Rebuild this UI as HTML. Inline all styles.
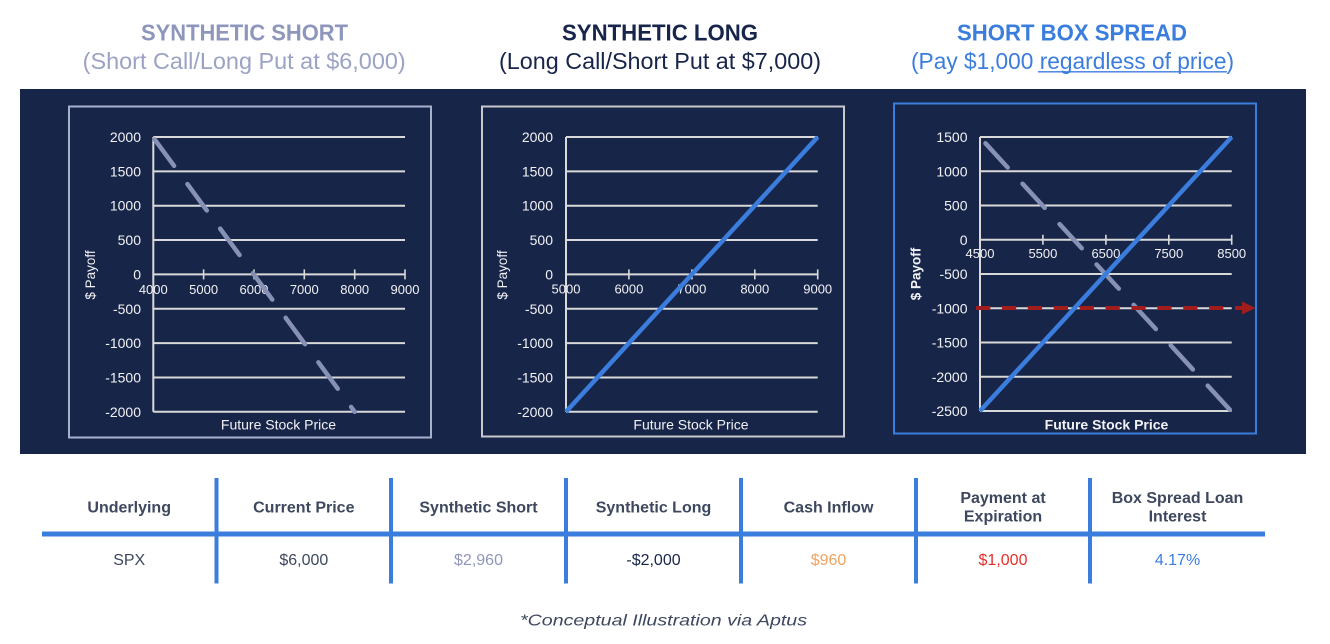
<!DOCTYPE html>
<html>
<head>
<meta charset="utf-8">
<style>
  html,body{margin:0;padding:0;background:#fff;}
  svg{display:block;}
</style>
</head>
<body>
<svg width="1330" height="644" viewBox="0 0 1330 644" xmlns="http://www.w3.org/2000/svg" font-family="'Liberation Sans', sans-serif">
  <rect width="1330" height="644" fill="#ffffff"/>

  <!-- Titles -->
  <text x="244.5" y="40.7" font-size="23" font-weight="bold" fill="#8e97bb" text-anchor="middle" textLength="207" lengthAdjust="spacingAndGlyphs">SYNTHETIC SHORT</text>
  <text x="244.2" y="69" font-size="23" fill="#9ba3c5" text-anchor="middle" textLength="323" lengthAdjust="spacingAndGlyphs">(Short Call/Long Put at $6,000)</text>

  <text x="660" y="40.7" font-size="23" font-weight="bold" fill="#17254a" text-anchor="middle" textLength="196" lengthAdjust="spacingAndGlyphs">SYNTHETIC LONG</text>
  <text x="660" y="69" font-size="23" fill="#17254a" text-anchor="middle" textLength="322" lengthAdjust="spacingAndGlyphs">(Long Call/Short Put at $7,000)</text>

  <text x="1072" y="40.7" font-size="23" font-weight="bold" fill="#3b7ddd" text-anchor="middle" textLength="230" lengthAdjust="spacingAndGlyphs">SHORT BOX SPREAD</text>
  <text x="1072.5" y="69" font-size="23" fill="#3b7ddd" text-anchor="middle" textLength="323" lengthAdjust="spacingAndGlyphs">(Pay $1,000 regardless of price)</text>
  <line x1="1038" y1="71.8" x2="1227" y2="71.8" stroke="#3b7ddd" stroke-width="1.3"/>

  <!-- Dark panel -->
  <rect x="20" y="89" width="1286" height="365" fill="#172548"/>

  <!-- ========== Chart 1 ========== -->
  <rect x="69" y="106.5" width="362" height="331" fill="none" stroke="#a9b0cc" stroke-width="2"/>
  <g stroke="#d9d9d9" stroke-width="2">
    <line x1="153.3" y1="137" x2="405" y2="137"/>
    <line x1="153.3" y1="171.35" x2="405" y2="171.35"/>
    <line x1="153.3" y1="205.7" x2="405" y2="205.7"/>
    <line x1="153.3" y1="240.05" x2="405" y2="240.05"/>
    <line x1="153.3" y1="274.4" x2="405" y2="274.4"/>
    <line x1="153.3" y1="308.75" x2="405" y2="308.75"/>
    <line x1="153.3" y1="343.1" x2="405" y2="343.1"/>
    <line x1="153.3" y1="377.45" x2="405" y2="377.45"/>
    <line x1="153.3" y1="411.8" x2="405" y2="411.8"/>
    <line x1="153.3" y1="137" x2="153.3" y2="411.8"/>
  </g>
  <g stroke="#d9d9d9" stroke-width="1.6">
    <line x1="203.6" y1="269.4" x2="203.6" y2="279.4"/>
    <line x1="254" y1="269.4" x2="254" y2="279.4"/>
    <line x1="304.3" y1="269.4" x2="304.3" y2="279.4"/>
    <line x1="354.7" y1="269.4" x2="354.7" y2="279.4"/>
    <line x1="405" y1="269.4" x2="405" y2="279.4"/>
  </g>
  <g font-size="14" fill="#f2f2f5" text-anchor="end">
    <text x="141" y="142">2000</text>
    <text x="141" y="176.35">1500</text>
    <text x="141" y="210.7">1000</text>
    <text x="141" y="245.05">500</text>
    <text x="141" y="279.4">0</text>
    <text x="141" y="313.75">-500</text>
    <text x="141" y="348.1">-1000</text>
    <text x="141" y="382.45">-1500</text>
    <text x="141" y="416.8">-2000</text>
  </g>
  <g font-size="13" fill="#f2f2f5" text-anchor="middle">
    <text x="153.3" y="293.8">4000</text>
    <text x="203.6" y="293.8">5000</text>
    <text x="254" y="293.8">6000</text>
    <text x="304.3" y="293.8">7000</text>
    <text x="354.7" y="293.8">8000</text>
    <text x="405" y="293.8">9000</text>
  </g>
  <text x="0" y="0" font-size="13.5" fill="#f2f2f5" text-anchor="middle" transform="translate(95,275) rotate(-90)">$ Payoff</text>
  <text x="278.5" y="429.3" font-size="14" fill="#f2f2f5" text-anchor="middle">Future Stock Price</text>
  <line x1="154.7" y1="139.5" x2="354.7" y2="411.8" stroke="#8791b5" stroke-width="4.5" stroke-linecap="round" stroke-dasharray="32.7 22.6"/>

  <!-- ========== Chart 2 ========== -->
  <rect x="482" y="106.5" width="362" height="330" fill="none" stroke="#c9c9cc" stroke-width="2"/>
  <g stroke="#d9d9d9" stroke-width="2">
    <line x1="566" y1="137" x2="817.7" y2="137"/>
    <line x1="566" y1="171.35" x2="817.7" y2="171.35"/>
    <line x1="566" y1="205.7" x2="817.7" y2="205.7"/>
    <line x1="566" y1="240.05" x2="817.7" y2="240.05"/>
    <line x1="566" y1="274.4" x2="817.7" y2="274.4"/>
    <line x1="566" y1="308.75" x2="817.7" y2="308.75"/>
    <line x1="566" y1="343.1" x2="817.7" y2="343.1"/>
    <line x1="566" y1="377.45" x2="817.7" y2="377.45"/>
    <line x1="566" y1="411.8" x2="817.7" y2="411.8"/>
    <line x1="566" y1="137" x2="566" y2="411.8"/>
  </g>
  <g stroke="#d9d9d9" stroke-width="1.6">
    <line x1="628.9" y1="269.4" x2="628.9" y2="279.4"/>
    <line x1="691.9" y1="269.4" x2="691.9" y2="279.4"/>
    <line x1="754.8" y1="269.4" x2="754.8" y2="279.4"/>
    <line x1="817.7" y1="269.4" x2="817.7" y2="279.4"/>
  </g>
  <g font-size="14" fill="#f2f2f5" text-anchor="end">
    <text x="553" y="142">2000</text>
    <text x="553" y="176.35">1500</text>
    <text x="553" y="210.7">1000</text>
    <text x="553" y="245.05">500</text>
    <text x="553" y="279.4">0</text>
    <text x="553" y="313.75">-500</text>
    <text x="553" y="348.1">-1000</text>
    <text x="553" y="382.45">-1500</text>
    <text x="553" y="416.8">-2000</text>
  </g>
  <g font-size="13" fill="#f2f2f5" text-anchor="middle">
    <text x="566" y="293.3">5000</text>
    <text x="628.9" y="293.3">6000</text>
    <text x="691.9" y="293.3">7000</text>
    <text x="754.8" y="293.3">8000</text>
    <text x="817.7" y="293.3">9000</text>
  </g>
  <text x="0" y="0" font-size="13.5" fill="#f2f2f5" text-anchor="middle" transform="translate(507,275) rotate(-90)">$ Payoff</text>
  <text x="691" y="429.3" font-size="14" fill="#f2f2f5" text-anchor="middle">Future Stock Price</text>
  <line x1="566" y1="411.8" x2="817.7" y2="137" stroke="#3b7ddd" stroke-width="4.5"/>

  <!-- ========== Chart 3 ========== -->
  <rect x="894" y="103.5" width="362" height="330" fill="none" stroke="#3b7ddd" stroke-width="2"/>
  <g stroke="#d9d9d9" stroke-width="2">
    <line x1="980" y1="137" x2="1231.7" y2="137"/>
    <line x1="980" y1="171.25" x2="1231.7" y2="171.25"/>
    <line x1="980" y1="205.5" x2="1231.7" y2="205.5"/>
    <line x1="980" y1="239.75" x2="1231.7" y2="239.75"/>
    <line x1="980" y1="274" x2="1231.7" y2="274"/>
    <line x1="980" y1="308.25" x2="1231.7" y2="308.25"/>
    <line x1="980" y1="342.5" x2="1231.7" y2="342.5"/>
    <line x1="980" y1="376.75" x2="1231.7" y2="376.75"/>
    <line x1="980" y1="411" x2="1231.7" y2="411"/>
    <line x1="980" y1="137" x2="980" y2="411"/>
  </g>
  <g stroke="#d9d9d9" stroke-width="1.6">
    <line x1="1042.9" y1="234.75" x2="1042.9" y2="244.75"/>
    <line x1="1105.9" y1="234.75" x2="1105.9" y2="244.75"/>
    <line x1="1168.8" y1="234.75" x2="1168.8" y2="244.75"/>
    <line x1="1231.7" y1="234.75" x2="1231.7" y2="244.75"/>
  </g>
  <g font-size="14" fill="#f2f2f5" text-anchor="end">
    <text x="967.5" y="142">1500</text>
    <text x="967.5" y="176.25">1000</text>
    <text x="967.5" y="210.5">500</text>
    <text x="967.5" y="244.75">0</text>
    <text x="967.5" y="279">-500</text>
    <text x="967.5" y="313.25">-1000</text>
    <text x="967.5" y="347.5">-1500</text>
    <text x="967.5" y="381.75">-2000</text>
    <text x="967.5" y="416">-2500</text>
  </g>
  <g font-size="13" fill="#f2f2f5" text-anchor="middle">
    <text x="980" y="258">4500</text>
    <text x="1042.9" y="258">5500</text>
    <text x="1105.9" y="258">6500</text>
    <text x="1168.8" y="258">7500</text>
    <text x="1231.7" y="258">8500</text>
  </g>
  <text x="0" y="0" font-size="13.5" font-weight="bold" fill="#f2f2f5" text-anchor="middle" transform="translate(920.5,274) rotate(-90)">$ Payoff</text>
  <text x="1106.5" y="429.3" font-size="14" font-weight="bold" fill="#f2f2f5" text-anchor="middle">Future Stock Price</text>
  <!-- gray dashed synthetic short -->
  <line x1="985.5" y1="143.3" x2="1230.7" y2="410.7" stroke="#8791b5" stroke-width="4.5" stroke-linecap="round" stroke-dasharray="32.8 22"/>
  <!-- blue synthetic long -->
  <line x1="980" y1="411" x2="1231.7" y2="137" stroke="#3b7ddd" stroke-width="4.5"/>
  <!-- red dashed payment line with arrow -->
  <line x1="976" y1="308" x2="1244" y2="308" stroke="#a11d1d" stroke-width="4" stroke-dasharray="14.3 11.6"/>
  <polygon points="1242,301.5 1255.5,308 1242,314.5" fill="#a11d1d"/>

  <!-- ========== Table ========== -->
  <g fill="#3b7ddd">
    <rect x="42" y="531.5" width="1223" height="5"/>
    <rect x="214.5" y="478" width="4" height="105.5"/>
    <rect x="389" y="478" width="4" height="105.5"/>
    <rect x="564" y="478" width="4" height="105.5"/>
    <rect x="739" y="478" width="4" height="105.5"/>
    <rect x="914" y="478" width="4" height="105.5"/>
    <rect x="1088" y="478" width="4" height="105.5"/>
  </g>
  <g font-size="16" font-weight="bold" fill="#3d475e" text-anchor="middle">
    <text x="129.2" y="512.5">Underlying</text>
    <text x="303.8" y="512.5">Current Price</text>
    <text x="478.5" y="512.5">Synthetic Short</text>
    <text x="653.5" y="512.5">Synthetic Long</text>
    <text x="828.5" y="512.5">Cash Inflow</text>
    <text x="1003" y="503">Payment at</text>
    <text x="1003" y="521.5">Expiration</text>
    <text x="1177.5" y="503">Box Spread Loan</text>
    <text x="1177.5" y="521.5">Interest</text>
  </g>
  <g font-size="16" text-anchor="middle">
    <text x="129.2" y="565" fill="#3d475e">SPX</text>
    <text x="303.8" y="565" fill="#3d475e">$6,000</text>
    <text x="478.5" y="565" fill="#8e97bb">$2,960</text>
    <text x="653.5" y="565" fill="#17254a">-$2,000</text>
    <text x="828.5" y="565" fill="#f0a35e">$960</text>
    <text x="1003" y="565" fill="#e3302b">$1,000</text>
    <text x="1177.5" y="565" fill="#3b7ddd">4.17%</text>
  </g>

  <text x="663.5" y="625.5" font-size="16" font-style="italic" fill="#3d475e" text-anchor="middle" textLength="287" lengthAdjust="spacingAndGlyphs">*Conceptual Illustration via Aptus</text>
</svg>
</body>
</html>
